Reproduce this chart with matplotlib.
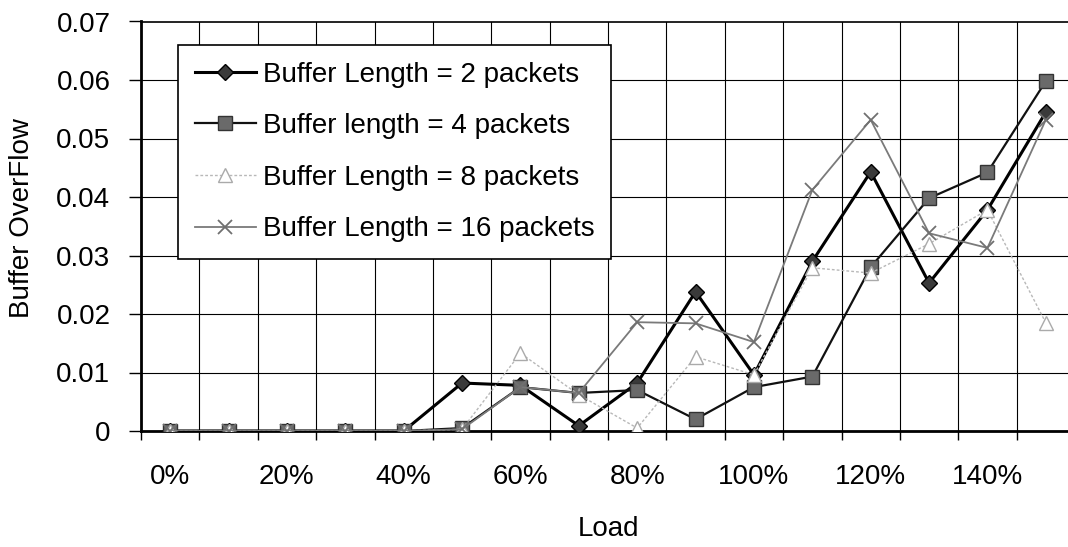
import matplotlib
matplotlib.use("Agg")
from matplotlib import pyplot as plt
from matplotlib.ticker import FixedLocator

plt.rcParams['font.family'] = ['Liberation Sans', 'DejaVu Sans']

loads = ['0%', '10%', '20%', '30%', '40%', '50%', '60%', '70%',
         '80%', '90%', '100%', '110%', '120%', '130%', '140%', '150%']
buf2 = [0, 0, 0, 0, 0, 0.0082, 0.0078, 0.0009, 0.0082, 0.0238,
        0.0096, 0.0290, 0.0443, 0.0253, 0.0378, 0.0545]
buf4 = [0, 0, 0, 0, 0, 0.0005, 0.0075, 0.0065, 0.0070, 0.0020,
        0.0075, 0.0093, 0.0280, 0.0398, 0.0442, 0.0598]
buf8 = [0, 0, 0, 0, 0, 0.0003, 0.0133, 0.0062, 0.0005, 0.0127,
        0.0096, 0.0279, 0.0270, 0.0320, 0.0378, 0.0185]
buf16 = [0, 0, 0, 0, 0, 0.0003, 0.0075, 0.0065, 0.0186, 0.0184,
         0.0152, 0.0412, 0.0532, 0.0338, 0.0313, 0.0532]
y_ticks = [0, 0.01, 0.02, 0.03, 0.04, 0.05, 0.06, 0.07]
y_labels = ['0', '0.01', '0.02', '0.03', '0.04', '0.05', '0.06', '0.07']

x = list(range(len(loads)))
fs = 20

fig = plt.figure(figsize=(10.68, 5.47), dpi=100)
# the original plot area runs a little past the right edge of the image
ax = fig.add_axes([141 / 1068, 116 / 547, 934 / 1068, 409.5 / 547])

ax.plot(x, buf2, c='black', lw=2.2, marker='D', ms=8.5,
        mfc='#3a3a3a', mec='black', label='Buffer Length = 2 packets', zorder=3)
ax.plot(x, buf4, c='#111111', lw=1.6, marker='s', ms=10,
        mfc='#6a6a6a', mec='#333333', label='Buffer length = 4 packets', zorder=4)
ax.plot(x, buf8, c='#b8b8b8', lw=1.0, ls=(0, (2, 1.5)), marker='^', ms=10,
        mfc='white', mec='#aaaaaa', label='Buffer Length = 8 packets', zorder=5)
ax.plot(x, buf16, c='#7a7a7a', lw=1.3, marker='x', ms=10.5, mew=1.3,
        mec='#707070', label='Buffer Length = 16 packets', zorder=6)

ax.set_xlim(-0.5, 15.5)
ax.set_ylim(0, 0.07)

# category labels every other point, ticks and grid on category boundaries
ax.set_xticks(x[::2])
ax.set_xticklabels(loads[::2], fontsize=fs)
ax.tick_params(axis='x', which='major', length=0, pad=24)
ax.xaxis.set_minor_locator(FixedLocator([i - 0.5 for i in range(len(loads) + 1)]))
ax.tick_params(axis='x', which='minor', length=6.5, width=1, color='black')
ax.set_yticks(y_ticks)
ax.set_yticklabels(y_labels, fontsize=fs)
ax.tick_params(axis='y', length=9, width=1, pad=13)

ax.grid(True, which='minor', axis='x', color='black', lw=0.8)
ax.grid(True, which='major', axis='y', color='black', lw=0.8)
ax.set_axisbelow(True)

for s in ['left', 'bottom']:
    ax.spines[s].set_linewidth(2)
ax.spines['top'].set_linewidth(1.2)
ax.spines['right'].set_visible(False)
ax.spines['bottom'].set_zorder(2.5)

ax.set_xlabel('Load', fontsize=fs, va='center')
ax.xaxis.set_label_coords(0.5, (431 - 529) / 409.5)
ax.set_ylabel('Buffer OverFlow', fontsize=fs, va='center')
ax.yaxis.set_label_coords((22 - 141) / 934, (431 - 218) / 409.5)

leg = ax.legend(loc='upper left', bbox_to_anchor=(37 / 934, (409.5 - 23.5) / 409.5),
                borderaxespad=0, fontsize=fs, frameon=True, fancybox=False,
                framealpha=1, edgecolor='black', handlelength=2.2,
                handletextpad=0.25, labelspacing=0.92, borderpad=0.6)
leg.get_frame().set_linewidth(1.2)
leg.set_zorder(10)

fig.savefig('out.png', dpi=100)
